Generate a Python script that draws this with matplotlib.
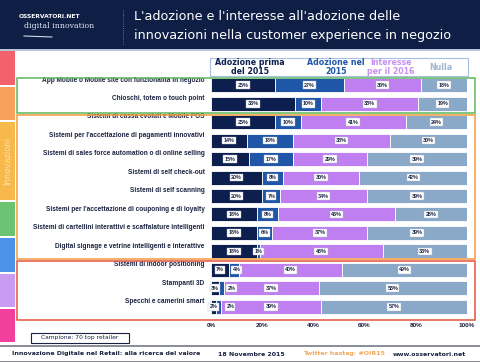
import numpy as np
import matplotlib.pyplot as plt
from matplotlib.patches import Rectangle

categorie = [
    'App Mobile o Mobile site con funzionalità in negozio',
    'Chioschi, totem o touch point',
    'Sistemi di cassa evoluti e Mobile POS',
    "Sistemi per l'accettazione di pagamenti innovativi",
    'Sistemi di sales force automation o di online selling',
    'Sistemi di self check-out',
    'Sistemi di self scanning',
    "Sistemi per l'accettazione di couponing e di loyalty",
    'Sistemi di cartellini interattivi e scaffalature intelligenti',
    'Digital signage e vetrine intelligenti e interattive',
    'Sistemi di Indoor positioning',
    'Stampanti 3D',
    'Specchi e camerini smart',
]
prima_2015 = [25, 33, 25, 14, 15, 20, 20, 18, 18, 18, 7, 3, 2]
nel_2015 = [27, 10, 10, 18, 17, 8, 7, 8, 6, 1, 4, 2, 2]
interesse_2016 = [30, 38, 41, 38, 29, 30, 34, 46, 37, 48, 40, 37, 39]
nulla = [18, 19, 24, 30, 39, 42, 39, 28, 39, 33, 49, 58, 57]
serie_nomi = ['Adozione prima\ndel 2015', 'Adozione nel\n2015', 'Interesse\nper il 2016', 'Nulla']
tick_valori = [0, 20, 40, 60, 80, 100]

colori = ['#0c1f4e', '#1f56a8', '#c07ff0', '#8aa9c9']
colori_testo = ['#0c1f4e', '#1f56a8', '#c890f0', '#9fb6d0']
navy = '#0e1e44'

W, H = 481, 363
fig = plt.figure(figsize=(W / 100, H / 100), dpi=100)


def fx(x):
    return x / W


def fy(y):
    return 1 - y / H


def rect(x0, y0, x1, y1, **kw):
    fig.add_artist(Rectangle((fx(x0), fy(y1)), fx(x1) - fx(x0), fy(y0) - fy(y1),
                             transform=fig.transFigure, **kw))


# header
rect(0, 0, W, 49, fc=navy, ec='none')
rect(0, 49, W, 50.5, fc='#b8c4d8', ec='none')
fig.text(fx(134), fy(17), "L'adozione e l'interesse all'adozione delle",
         color='white', fontsize=9.2, va='center', ha='left')
fig.text(fx(134), fy(36), 'innovazioni nella customer experience in negozio',
         color='white', fontsize=9.2, va='center', ha='left')
fig.text(fx(19), fy(17), 'OSSERVATORI.NET', color='white', fontsize=4.3,
         fontweight='bold', va='center', ha='left')
fig.text(fx(24), fy(26), 'digital innovation', color='#dfe6f2', fontsize=5.6,
         family='DejaVu Serif', va='center', ha='left')
fig.add_artist(plt.Line2D([fx(24), fx(52)], [fy(36), fy(37)], color='#cfd8e8',
                          lw=0.8, transform=fig.transFigure))
fig.add_artist(plt.Line2D([fx(123), fx(123)], [fy(10), fy(44)], color='#8090b0',
                          lw=0.6, ls=':', transform=fig.transFigure))

# side strip
strip = [(51, 85, '#f2626c'), (87, 120, '#f6a25c'), (122, 200, '#f7b84c'),
         (202, 236, '#6cc373'), (238, 272, '#4d92ea'), (274, 307, '#c99cf1'),
         (309, 342, '#f23f9e')]
for y0, y1, c in strip:
    rect(0, y0, 15, y1, fc=c, ec='none')
fig.text(fx(8), fy(161), 'Innovazioni', rotation=90, color='#fbe3b0',
         fontsize=6, va='center', ha='center')

# main chart
ax = fig.add_axes([fx(211), fy(316), fx(467) - fx(211), fy(76) - fy(316)])
y = np.arange(len(categorie))
serie = [prima_2015, nel_2015, interesse_2016, nulla]
left = np.zeros(len(categorie))
for vals, c in zip(serie, colori):
    ax.barh(y, vals, left=left, height=0.76, color=c, edgecolor='white', linewidth=0.6)
    left = left + np.array(vals)

for i in range(len(categorie)):
    start = 0
    last = -10
    for vals in serie:
        v = vals[i]
        pos = max(start + v / 2, last + 6.5)
        ax.text(pos, i, f'{v}%', fontsize=3.9, fontweight='bold', color='#1a2240',
                ha='center', va='center', family='Liberation Sans',
                bbox=dict(boxstyle='square,pad=0.25', fc='white', ec='#b0b8c8', lw=0.3))
        last = pos
        start += v
    ax.text(-0.025, i - 0.28, categorie[i], transform=ax.get_yaxis_transform(),
            ha='right', va='center', fontsize=4.7, fontweight='bold',
            color='#1a2240', family='Liberation Sans')

ax.set_xlim(0, 100)
ax.set_ylim(len(categorie) - 0.5, -0.5)
ax.set_xticks(tick_valori)
ax.set_xticklabels([f'{t}%' for t in tick_valori], fontsize=4.6, fontweight='bold',
                   color='#1a2240', family='Liberation Sans')
ax.set_yticks([])
ax.tick_params(axis='x', length=0, pad=5)
for s in ax.spines.values():
    s.set_visible(False)

# legend header
rect(210, 58, 468, 76, fc='none', ec='#a8c0e0', lw=0.8)
for nome, c, xc in zip(serie_nomi, colori_testo, [250, 336, 391, 441]):
    fig.text(fx(xc), fy(67), nome, color=c, fontsize=5.7, fontweight='bold',
             ha='center', va='center', linespacing=0.9)

# group boxes
rect(17, 77.5, 475, 112.5, fc='none', ec='#5cb85c', lw=1.1)
rect(17, 114.5, 475, 258.5, fc='none', ec='#f29a3c', lw=1.1)
rect(17, 260.5, 475, 320, fc='none', ec='#e2543f', lw=1.1)

# sample box
rect(31, 333, 129, 343, fc='white', ec='#1a2240', lw=0.8)
fig.text(fx(80), fy(338), 'Campione: 70 top retailer', fontsize=4.3, color='#1a2240',
         ha='center', va='center', family='Liberation Sans Narrow')

# footer
rect(0, 344.5, W, 346.5, fc='#8a8f99', ec='none')
rect(0, 360.5, W, 362, fc='#8a8f99', ec='none')
fy_f = fy(354)
fig.text(fx(12), fy_f, 'Innovazione Digitale nel Retail: alla ricerca del valore',
         fontsize=4.5, fontweight='bold', color='#1a2240', va='center', ha='left')
fig.text(fx(218), fy_f, '18 Novembre 2015', fontsize=4.5, fontweight='bold',
         color='#1a2240', va='center', ha='left')
fig.text(fx(303), fy_f, 'Twitter hastag: #OIR15', fontsize=4.5, fontweight='bold',
         color='#f3a85a', va='center', ha='left')
fig.text(fx(393), fy_f, 'www.osservatori.net', fontsize=4.5, fontweight='bold',
         color='#1a2240', va='center', ha='left')

fig.savefig('out.png', dpi=100)
